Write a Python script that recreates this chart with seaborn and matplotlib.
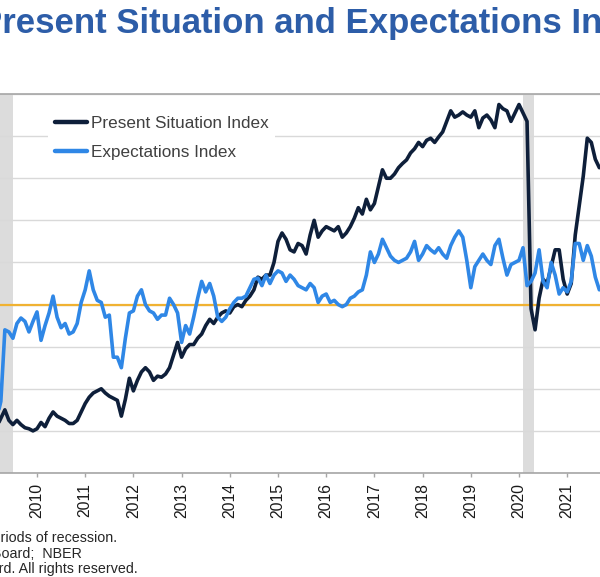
import numpy as np
import pandas as pd
import matplotlib
matplotlib.use("Agg")
import matplotlib.pyplot as plt
import seaborn as sns

# monthly values, Jan 2009 .. Sep 2021
present = [
    29.7, 22, 22, 26, 30, 25, 23, 25, 23, 21.5, 21, 20,            # 2009
    21, 24, 22, 26, 29, 27, 26, 25, 23.5, 23.5, 25, 29,            # 2010
    33, 36, 38, 39, 40, 38, 36.5, 35.5, 34.5, 27, 35, 45,          # 2011
    39, 44, 48, 50, 48, 44, 46, 45.5, 47, 50, 56, 62,              # 2012
    55, 59, 61, 61, 64, 66, 70, 73, 71, 74, 76, 77,                # 2013
    76, 79, 80, 79, 82, 84, 87, 93, 92, 94, 94, 100,               # 2014
    110, 114, 111, 106, 105, 109, 108, 104, 113, 120, 112, 115,    # 2015
    117, 116, 115, 117, 112, 114, 117, 121, 126, 123, 130, 125,    # 2016
    128, 136, 144, 140, 140, 142, 145, 147, 148.7, 152, 154, 157,  # 2017
    155, 158, 159, 157, 159.6, 162, 167, 172, 169, 170, 171.5, 170,  # 2018
    169, 172, 164, 168.6, 170, 167.7, 164, 175, 173, 172, 167, 171,  # 2019
    175, 171, 167, 78, 68, 83, 92, 90, 98, 106, 106, 92,           # 2020
    85, 90, 113, 127, 141, 159, 157, 149, 145,                     # 2021
]
expectations = [
    27, 25, 26, 34, 68, 67, 64, 71, 73.6, 72, 67, 72,              # 2009
    76.5, 63, 70, 76, 84, 74, 69, 71, 66, 67, 71, 81,              # 2010
    87, 96, 87, 82, 81, 74, 75, 55, 55, 50, 64, 76,                # 2011
    77, 84, 87, 80, 77, 76, 73, 75, 75, 83, 80, 76,                # 2012
    62, 70, 66, 74, 83, 91, 86, 90, 84, 74, 72, 74,                # 2013
    78, 81, 83, 83, 84, 88, 92, 92.6, 89, 94, 90, 94,              # 2014
    96, 95, 91, 94, 92, 89, 88, 87, 90, 88, 81, 84,                # 2015
    85, 81, 82, 80, 79, 80, 83, 84, 86, 87, 94, 105,               # 2016
    100, 104, 111, 107, 103, 101, 100, 101, 102, 105, 110, 101,    # 2017
    104, 108, 106, 104.5, 107, 104, 102, 108, 112, 115, 112, 101,  # 2018
    88, 98, 101, 104, 101, 99, 108, 111, 102, 94, 99, 100,         # 2019
    101, 107, 89, 91, 95, 106, 91, 88, 100, 94, 85, 88,            # 2020
    86, 91, 109, 109, 101, 108, 103, 93, 87,                       # 2021
]
series_names = ["Present Situation Index", "Expectations Index"]
series_colors = ["#0e1f3a", "#2f87e6"]
year_ticks = list(range(2010, 2022))
recessions = [(2007.917, 2009.502), (2020.083, 2020.31)]
threshold = 80

months = pd.date_range("2009-01-01", periods=len(present), freq="MS")
t = months.year + (months.month - 1) / 12
df = pd.DataFrame({"t": t, series_names[0]: present, series_names[1]: expectations})
df = df.melt(id_vars="t", var_name="series", value_name="value")

sns.set_theme(style="white")
plt.rcParams["font.family"] = ["Liberation Sans", "DejaVu Sans"]

fig = plt.figure(figsize=(6, 5.77), dpi=100)
ax = fig.add_axes([0, 104 / 577, 1, 379 / 577])

for a, b in recessions:
    ax.axvspan(a, b, color="#dcdcdc", lw=0, zorder=0)

ax.set_yticks(range(0, 181, 20))
ax.yaxis.grid(True, color="#d9d9d9", lw=1)
ax.set_axisbelow(True)

sns.lineplot(data=df, x="t", y="value", hue="series", hue_order=series_names,
             palette=dict(zip(series_names, series_colors)),
             linewidth=2.6, ax=ax, legend=False, zorder=3)
ax.axhline(threshold, color="#F0B232", lw=1.6, zorder=1.5)

ax.set_xlim(2010 - 37 / 48.2, 2010 + 563 / 48.2)
ax.set_ylim(0, 180)
ax.set_xlabel("")
ax.set_ylabel("")
ax.set_xticks(year_ticks)
ax.set_xticklabels([str(y) for y in year_ticks], rotation=90, fontsize=11.3, color="#1a1a1a")
ax.tick_params(axis="x", bottom=True, length=3, width=1, color="#a6a6a6", pad=4, direction="out")
ax.tick_params(axis="y", left=False, labelleft=False)
for s in ["left", "right"]:
    ax.spines[s].set_visible(False)
for s in ["top", "bottom"]:
    ax.spines[s].set_color("#a6a6a6")
    ax.spines[s].set_linewidth(1.2)

handles = ax.get_lines()[:2]
leg = ax.legend(handles=handles, labels=series_names,
                loc="upper left", bbox_to_anchor=(48 / 600, 1 - 109 / 577),
                bbox_transform=fig.transFigure, frameon=True, facecolor="white",
                edgecolor="none", framealpha=1, fontsize=12.3, handlelength=1.9,
                handletextpad=0.2, labelspacing=0.85, borderpad=0.4,
                borderaxespad=0, labelcolor="#404040")
for line in leg.get_lines():
    line.set_linewidth(3.2)

fig.text(-21 / 600, 1 - 33 / 577, "Present Situation and Expectations Indexes",
         ha="left", va="baseline", fontsize=25, fontweight="bold", color="#2D5DA8")

fig.text(117 / 600, 1 - 542 / 577, "Note: Shaded areas represent periods of recession.",
         ha="right", va="baseline", fontsize=10.3, color="#262626")
fig.text(82 / 600, 1 - 558 / 577, "Source: The Conference Board;  NBER",
         ha="right", va="baseline", fontsize=10.3, color="#262626")
fig.text(138 / 600, 1 - 573 / 577, "\u00a9 2021 The Conference Board. All rights reserved.",
         ha="right", va="baseline", fontsize=10.3, color="#262626")

plt.savefig("out.png", dpi=100)
